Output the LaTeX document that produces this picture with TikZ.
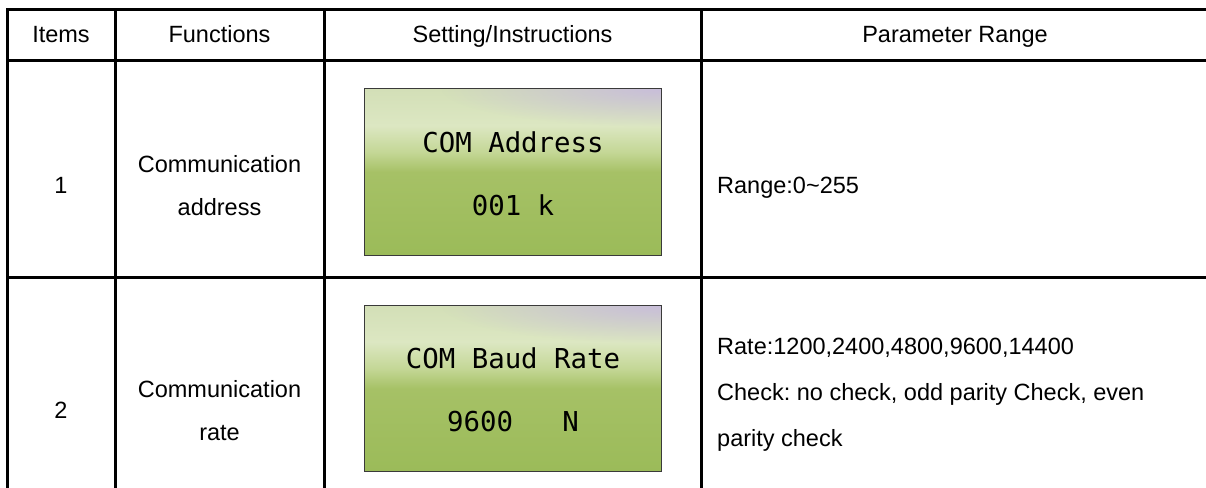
\documentclass[tikz,border=0pt]{standalone}
\usepackage{fontspec}
\setmainfont{Liberation Sans}
\newfontfamily\lcdfont{DejaVu Sans Mono}
\usetikzlibrary{fadings}
\frenchspacing
\definecolor{lcdg}{HTML}{9BBB59}
\definecolor{lcdmid}{HTML}{A6C166}
\definecolor{lcdlt}{HTML}{C4D796}
\definecolor{lcdpale}{HTML}{DCE7C2}
\definecolor{lcdtop}{HTML}{D3DFB7}
\definecolor{lav}{HTML}{C8BCDC}
\definecolor{lcdedge}{HTML}{3A3A3A}
\pgfdeclareverticalshading{lcdshade}{100bp}{color(0bp)=(lcdg); color(25bp)=(lcdg); color(50bp)=(lcdmid); color(56bp)=(lcdlt); color(64bp)=(lcdpale); color(75bp)=(lcdtop); color(100bp)=(lcdtop)}
\tikzfading[name=lavfade, inner color=transparent!5, outer color=transparent!100]
\begin{document}
\begin{tikzpicture}[x=1pt,y=-1pt,
  grid/.style={line width=3pt, line cap=rect},
  cell/.style={font=\fontsize{23.5}{27}\selectfont, anchor=base, inner sep=0pt},
  lcell/.style={cell, anchor=base west},
  lcdbox/.style={minimum width=296pt, minimum height=166pt, inner sep=0pt, shading=lcdshade, draw=none},
  lcdtxt/.style={font=\lcdfont\fontsize{27.4}{30}\selectfont, anchor=base, inner sep=0pt}]
\useasboundingbox (0,0) rectangle (1206,487);
\fill[white] (0,0) rectangle (1206,487);
% table grid
\draw[grid] (7,9.5) -- (1210,9.5);
\draw[grid] (7,60.5) -- (1210,60.5);
\draw[grid] (7,277) -- (1210,277);
\draw[grid] (7,9.5) -- (7,495);
\draw[grid] (115,9.5) -- (115,495);
\draw[grid] (324,9.5) -- (324,495);
\draw[grid] (701,9.5) -- (701,495);
% header
\node[cell] (h1) at (61,43) {Items};
\node[cell] (h2) at (219.5,43) {Functions};
\node[cell] (h3) at (512.5,43) {Setting/Instructions};
\node[cell] (h4) at (955,43) {Parameter Range};
% row 1
\node[cell] (n1) at (61,193) {1};
\node[cell] (f1a) at (219.5,172) {Communication};
\node[cell] (f1b) at (219.5,215) {address};
\node[lcell] (p1) at (717,193) {Range:0\textasciitilde 255};
% row 2
\node[cell] (n2) at (61,418) {2};
\node[cell] (f2a) at (219.5,397) {Communication};
\node[cell] (f2b) at (219.5,440) {rate};
\node[lcell] (p2a) at (717,354) {Rate:1200,2400,4800,9600,14400};
\node[lcell] (p2b) at (717,400) {Check: no check, odd parity Check, even};
\node[lcell] (p2c) at (717,446) {parity check};
% LCD 1
\node[lcdbox] (lcd1) at (513,172) {};
\begin{scope}
  \clip (lcd1.south west) rectangle (lcd1.north east);
  \fill[lav, path fading=lavfade] (lcd1.north east) ellipse [x radius=220pt, y radius=38pt];
\end{scope}
\draw[lcdedge, line width=1pt] (lcd1.south west) rectangle (lcd1.north east);
\node[lcdtxt] (l1a) at (513,152) {COM Address};
\node[lcdtxt] (l1b) at (513,215) {001 k};
% LCD 2
\node[lcdbox] (lcd2) at (513,388.5) {};
\begin{scope}
  \clip (lcd2.south west) rectangle (lcd2.north east);
  \fill[lav, path fading=lavfade] (lcd2.north east) ellipse [x radius=220pt, y radius=38pt];
\end{scope}
\draw[lcdedge, line width=1pt] (lcd2.south west) rectangle (lcd2.north east);
\node[lcdtxt] (l2a) at (513,368) {COM Baud Rate};
\node[lcdtxt] (l2b) at (513,431) {9600\ \ \ N};
\end{tikzpicture}
\end{document}
